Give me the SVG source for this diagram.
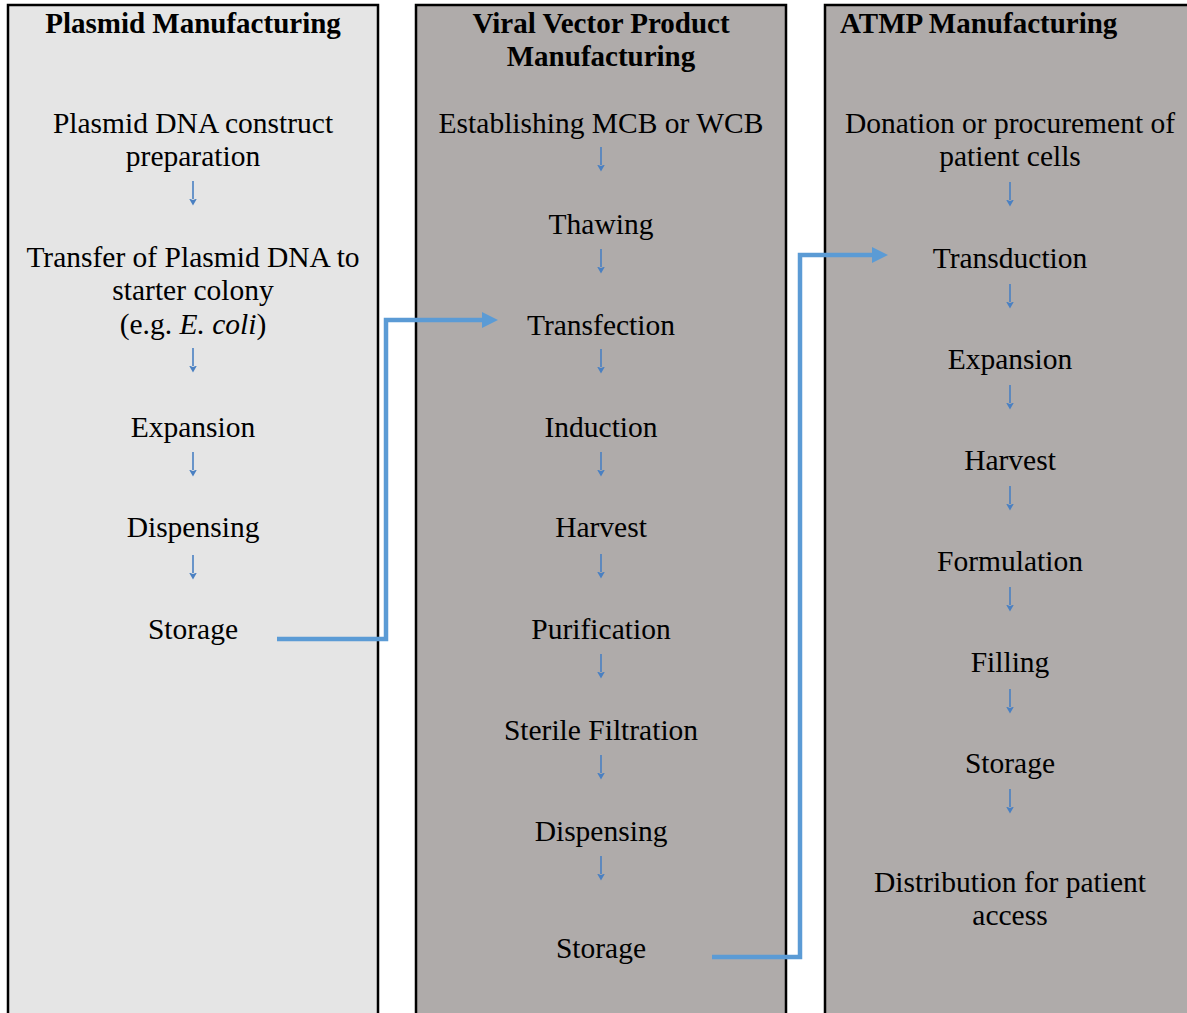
<svg xmlns="http://www.w3.org/2000/svg" width="1187" height="1013" viewBox="0 0 1187 1013">
<defs>
<style>
.col1{fill:#e5e5e5;stroke:#000;stroke-width:2.5}
.col2{fill:#afabaa;stroke:#000;stroke-width:2.5}
text{font-family:"Liberation Serif","Times New Roman",serif;font-size:29.5px;fill:#000;text-anchor:middle}
.h{font-weight:bold;font-size:29px}
.c{fill:none;stroke:#5b9bd5;stroke-width:4.5}
.s{stroke:#4a80c2;stroke-width:1.6}
</style>
<marker id="ah" markerUnits="userSpaceOnUse" markerWidth="18" markerHeight="16" refX="0" refY="8" orient="auto">
<path d="M0,0 L16,8 L0,16 Z" fill="#5b9bd5"/>
</marker>
<marker id="sh" markerUnits="userSpaceOnUse" markerWidth="8" markerHeight="9" refX="0.5" refY="4.5" orient="auto">
<path d="M0,0.5 L7,4.5 L0,8.5 L1.5,4.5 Z" fill="#4a80c2"/>
</marker>
</defs>
<rect width="1187" height="1013" fill="#fff"/>
<g id="plasmid">
<rect class="col1" x="8" y="5" width="370" height="1020"/>
<text class="h" x="193" y="33">Plasmid Manufacturing</text>
<text x="193" y="133">Plasmid DNA construct</text>
<text x="193" y="166">preparation</text>
<text x="193" y="267">Transfer of Plasmid DNA to</text>
<text x="193" y="300">starter colony</text>
<text x="193" y="334">(e.g. <tspan font-style="italic">E. coli</tspan>)</text>
<text x="193" y="437">Expansion</text>
<text x="193" y="537">Dispensing</text>
<text x="193" y="639">Storage</text>
</g>
<g id="viral">
<rect class="col2" x="416" y="5" width="370" height="1020"/>
<text class="h" x="601" y="33">Viral Vector Product</text>
<text class="h" x="601" y="66">Manufacturing</text>
<text x="601" y="133">Establishing MCB or WCB</text>
<text x="601" y="234">Thawing</text>
<text x="601" y="335">Transfection</text>
<text x="601" y="437">Induction</text>
<text x="601" y="537">Harvest</text>
<text x="601" y="639">Purification</text>
<text x="601" y="740">Sterile Filtration</text>
<text x="601" y="841">Dispensing</text>
<text x="601" y="958">Storage</text>
</g>
<g id="atmp">
<rect class="col2" x="825" y="5" width="370" height="1020"/>
<text class="h" x="840" y="33" style="text-anchor:start">ATMP Manufacturing</text>
<text x="1010" y="133">Donation or procurement of</text>
<text x="1010" y="166">patient cells</text>
<text x="1010" y="268">Transduction</text>
<text x="1010" y="369">Expansion</text>
<text x="1010" y="470">Harvest</text>
<text x="1010" y="571">Formulation</text>
<text x="1010" y="672">Filling</text>
<text x="1010" y="773">Storage</text>
<text x="1010" y="892">Distribution for patient</text>
<text x="1010" y="925">access</text>
</g>
<g id="connectors">
<g class="s" marker-end="url(#sh)">
<line x1="193" y1="181" x2="193" y2="199"/>
<line x1="193" y1="348" x2="193" y2="366"/>
<line x1="193" y1="452" x2="193" y2="470"/>
<line x1="193" y1="555" x2="193" y2="573"/>
<line x1="601" y1="147" x2="601" y2="165"/>
<line x1="601" y1="249" x2="601" y2="267"/>
<line x1="601" y1="349" x2="601" y2="367"/>
<line x1="601" y1="452" x2="601" y2="470"/>
<line x1="601" y1="554" x2="601" y2="572"/>
<line x1="601" y1="654" x2="601" y2="672"/>
<line x1="601" y1="755" x2="601" y2="773"/>
<line x1="601" y1="856" x2="601" y2="874"/>
<line x1="1010" y1="182" x2="1010" y2="200"/>
<line x1="1010" y1="284" x2="1010" y2="302"/>
<line x1="1010" y1="385" x2="1010" y2="403"/>
<line x1="1010" y1="486" x2="1010" y2="504"/>
<line x1="1010" y1="587" x2="1010" y2="605"/>
<line x1="1010" y1="689" x2="1010" y2="707"/>
<line x1="1010" y1="789" x2="1010" y2="807"/>
</g>
<polyline class="c" points="277,639 386,639 386,320 482,320" marker-end="url(#ah)"/>
<polyline class="c" points="712,957 800,957 800,255 872,255" marker-end="url(#ah)"/>
</g>
</svg>
